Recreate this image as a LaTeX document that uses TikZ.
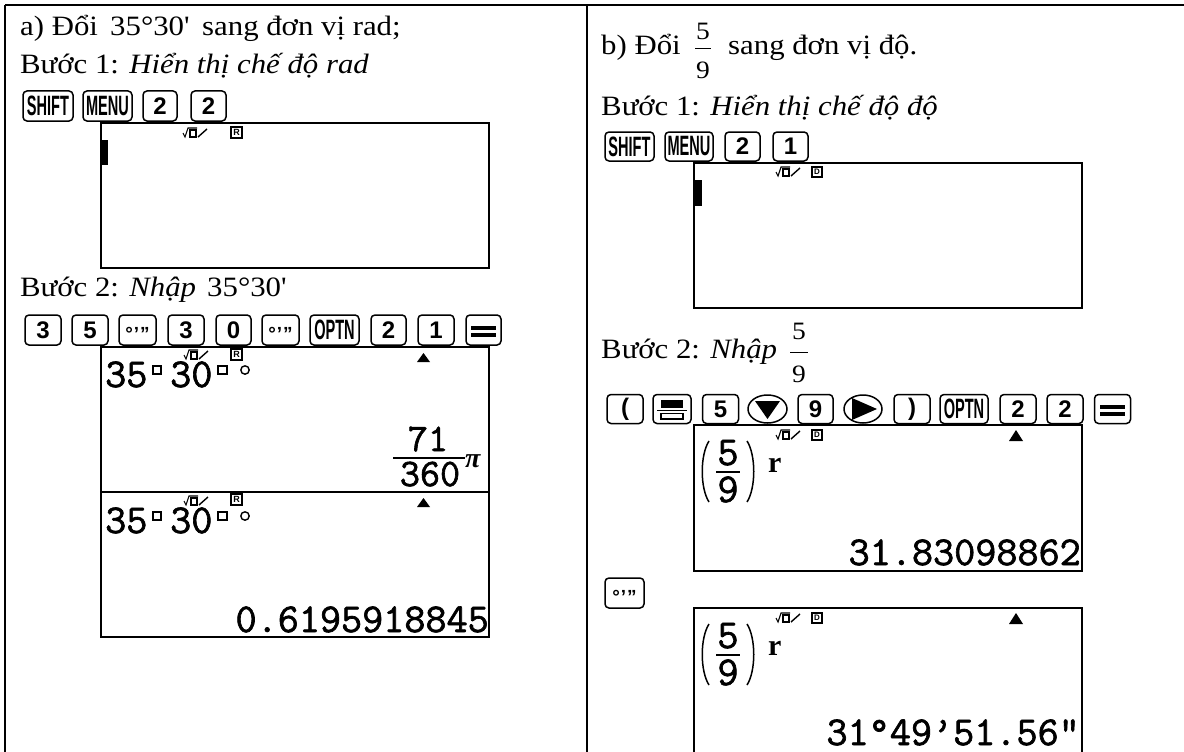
\documentclass[tikz,border=0pt]{standalone}
\usepackage{fontspec}
\usetikzlibrary{shapes.geometric}
\setmainfont{Liberation Serif}[FakeStretch=1.1]
\newfontfamily\keyfont{Liberation Sans}[FakeStretch=0.52]
\newfontfamily\keydig{Liberation Sans}
\newfontfamily\lcd{Latin Modern Mono}[FakeBold=1.6]
\newfontfamily\lcdser{Liberation Serif}
\newcommand\degkey{{\keydig\bfseries\fontsize{19}{19}\selectfont\smash{\raisebox{-10.5pt}{°\kern1pt’\kern1pt”}}}}
\begin{document}
\begin{tikzpicture}[x=1pt,y=-1pt,
  txt/.style={anchor=base west, inner sep=0pt, font=\fontsize{28}{30}\selectfont},
  fracd/.style={anchor=base, inner sep=0pt, font=\fontsize{25}{25}\selectfont},
  key/.style={draw, line width=1.5pt, rounded corners=4pt, inner sep=0pt, minimum height=30pt},
  kw/.style={font=\keyfont\bfseries\fontsize{28}{28}\selectfont},
  kd/.style={font=\keydig\bfseries\fontsize{24}{24}\selectfont},
  okey/.style={draw, ellipse, line width=1.5pt, inner sep=0pt, minimum height=28pt},
  screen/.style={draw, line width=1.8pt},
  lcdr/.style={anchor=base east, inner sep=0pt, font=\lcd\fontsize{41}{41}\selectfont},
  lcdl/.style={anchor=base west, inner sep=0pt, font=\lcd\fontsize{41}{41}\selectfont},
  lcdf/.style={anchor=base, inner sep=0pt, font=\lcd\fontsize{39}{39}\selectfont},
  lcdb/.style={anchor=base, inner sep=0pt, font=\lcd\fontsize{41}{41}\selectfont},
  rsup/.style={anchor=base west, inner sep=0pt, font=\lcdser\bfseries\fontsize{30}{30}\selectfont},
  mathio/.pic={\draw[line width=1.1pt] (0,5)--(2,9)--(5,0)--(14,0); \draw[line width=1.1pt] (7,2) rectangle (13,9); \draw[line width=1.4pt] (15,9)--(24,1);},
  boxR/.pic={\draw[line width=1.2pt] (0,0) rectangle (11,11); \node[inner sep=0pt, font=\keydig\bfseries\fontsize{9}{9}\selectfont] (-t) at (5.5,5.5) {R};},
  boxD/.pic={\draw[line width=1.2pt] (0,0) rectangle (10,10); \node[inner sep=0pt, font=\keydig\bfseries\fontsize{8}{8}\selectfont] (-t) at (5,5) {D};},
  hsq/.style={line width=1.3pt},
]
\useasboundingbox (0,0) rectangle (1184,752);
\fill[white] (0,0) rectangle (1184,752);
% table
\draw[line width=2pt] (5,5) -- (1184,5);
\draw[line width=2pt] (5,5) -- (5,752);
\draw[line width=2pt] (587,5) -- (587,752);

% ===== left column texts
\node[txt] (a1) at (20,36) {a) Đổi};
\node[txt] (a2) at (110,36) {35°30\textquotesingle};
\node[txt] (a3) at (202,36) {sang đơn vị rad;};
\node[txt] (a4) at (20,74) {Bước 1: \textit{Hiển thị chế độ rad}};
\node[txt] (a5) at (20,296) {Bước 2: \textit{Nhập}};
\node[txt] (a6) at (207,296) {35°30\textquotesingle};

% left keys step 1
\node[key,kw,minimum width=50pt] (lk1) at (48,106) {SHIFT};
\node[key,kw,minimum width=49pt] (lk2) at (107.5,106) {MENU};
\node[key,kd,minimum width=34pt] (lk3) at (160,106) {2};
\node[key,kd,minimum width=35pt] (lk4) at (208.5,106) {2};

% left screen 1
\node[screen, minimum width=388pt, minimum height=145pt, inner sep=0pt] (ls1) at (295,195.5) {};
\fill (101,140) rectangle (108,165);
\pic at (183,128) {mathio};
\pic (ir1) at (231,127) {boxR};

% left keys step 2
\node[key,kd,minimum width=36pt] (lm1) at (43,330) {3};
\node[key,kd,minimum width=36pt] (lm2) at (90,330) {5};
\node[key,minimum width=37pt] (lm3) at (137.5,330) {\degkey};
\node[key,kd,minimum width=36pt] (lm4) at (186,330) {3};
\node[key,kd,minimum width=35pt] (lm5) at (233.5,330) {0};
\node[key,minimum width=37pt] (lm6) at (280.5,330) {\degkey};
\node[key,kw,minimum width=49pt] (lm7) at (334.5,330) {OPTN};
\node[key,kd,minimum width=35pt] (lm8) at (388.5,330) {2};
\node[key,kd,minimum width=36pt] (lm9) at (436,330) {1};
\node[key,minimum width=35pt] (lm10) at (483.5,330) {};
\fill (471,325.5) rectangle (496,329.5);
\fill (471,332.5) rectangle (496,336.5);

% left screen 2
\node[screen, minimum width=388pt, minimum height=290pt, inner sep=0pt] (ls2) at (295,492) {};
\draw[line width=1.8pt] (101,492) -- (489,492);
% upper part
\node[lcdl] (u1) at (105,387) {35};
\draw[hsq] (153,366) rectangle (161,374);
\node[lcdl] (u2) at (170,387) {30};
\draw[hsq] (218,366) rectangle (227,374);
\draw[line width=1.4pt] (245,370) circle (4.2);
\pic at (184,350) {mathio};
\pic (ir2) at (231,349) {boxR};
\fill (417,362) -- (430,362) -- (423.5,353) -- cycle;
\node[lcdf] (u3) at (428,451) {71};
\draw[line width=1.6pt] (393,458) -- (465,458);
\node[lcdf] (u4) at (430,486) {360};
\node[anchor=base west, inner sep=0pt, font=\lcdser\bfseries\itshape\fontsize{28}{28}\selectfont] (u5) at (465,467) {π};
% lower part
\node[lcdl] (w1) at (105,533) {35};
\draw[hsq] (153,512) rectangle (161,520);
\node[lcdl] (w2) at (170,533) {30};
\draw[hsq] (218,512) rectangle (227,520);
\draw[line width=1.4pt] (245,516) circle (4.2);
\pic at (184,496) {mathio};
\pic (ir3) at (231,494) {boxR};
\fill (417,507) -- (430,507) -- (423.5,498) -- cycle;
\node[lcdr] (w3) at (489,632) {0.6195918845};

% ===== right column texts
\node[txt] (b1) at (601,55) {b) Đổi};
\node[fracd] (b2) at (703,40) {5};
\draw[line width=1pt] (695,49) -- (711,49);
\node[fracd] (b3) at (703,78) {9};
\node[txt] (b4) at (728,55) {sang đơn vị độ.};
\node[txt] (b5) at (601,115) {Bước 1: \textit{Hiển thị chế độ độ}};
\node[txt] (b6) at (601,358) {Bước 2: \textit{Nhập}};
\node[fracd] (b7) at (799,339) {5};
\draw[line width=1pt] (790,352) -- (808,352);
\node[fracd] (b8) at (799,382) {9};

% right keys step 1
\node[key,kw,minimum width=49pt,minimum height=29pt] (rk1) at (629.5,146.5) {SHIFT};
\node[key,kw,minimum width=48pt,minimum height=29pt] (rk2) at (689,146.5) {MENU};
\node[key,kd,minimum width=35pt,minimum height=29pt] (rk3) at (742.5,146.5) {2};
\node[key,kd,minimum width=35pt,minimum height=29pt] (rk4) at (790.5,146.5) {1};

% right screen 1
\node[screen, minimum width=388pt, minimum height=145pt, inner sep=0pt] (rs1) at (888,235.5) {};
\fill (694,180) rectangle (702,206);
\pic at (776,167) {mathio};
\pic (id1) at (812,167) {boxD};

% right keys step 2
\node[key,kd,minimum width=36pt,minimum height=29pt] (rm1) at (625,409) {(};
\node[key,minimum width=38pt,minimum height=29pt] (rm2) at (672,409) {};
\fill (661,399.5) rectangle (683,407.5);
\draw[line width=1.3pt] (657,410.5) -- (687,410.5);
\draw[line width=1.3pt] (661,413.5) rectangle (683,419);
\node[key,kd,minimum width=36pt,minimum height=29pt] (rm3) at (720.5,409) {5};
\node[okey,minimum width=39pt] (rm4) at (767.5,409) {};
\fill (755,401) -- (780,401) -- (767.5,419) -- cycle;
\node[key,kd,minimum width=35pt,minimum height=29pt] (rm5) at (815.5,409) {9};
\node[okey,minimum width=38pt] (rm6) at (863,409) {};
\fill (852,398) -- (852,420) -- (877,409) -- cycle;
\node[key,kd,minimum width=36pt,minimum height=29pt] (rm7) at (912,409) {)};
\node[key,kw,minimum width=48pt,minimum height=29pt] (rm8) at (964,409) {OPTN};
\node[key,kd,minimum width=36pt,minimum height=29pt] (rm9) at (1018,409) {2};
\node[key,kd,minimum width=36pt,minimum height=29pt] (rm10) at (1065,409) {2};
\node[key,minimum width=36pt,minimum height=29pt] (rm11) at (1112.5,409) {};
\fill (1100,404.5) rectangle (1125,408.5);
\fill (1100,411.5) rectangle (1125,415.5);

% right screen 2
\node[screen, minimum width=388pt, minimum height=146pt, inner sep=0pt] (rs2) at (888,498) {};
\pic at (776,430) {mathio};
\pic (id2) at (812,430) {boxD};
\fill (1009,441) -- (1023,441) -- (1016,430) -- cycle;
\draw[line width=1.5pt] (709,441) .. controls (700,455) and (700,488) .. (709,502);
\draw[line width=1.5pt] (747,441) .. controls (756,455) and (756,488) .. (747,502);
\node[lcdb] (p1) at (728,465) {5};
\draw[line width=1.6pt] (716,472) -- (740,472);
\node[lcdb] (p2) at (728,502) {9};
\node[rsup] (p3) at (768,472) {r};
\node[lcdr] (p4) at (1081,565) {31.83098862};

% key and screen 3
\node[key,minimum width=39pt] (rd) at (624.5,593) {\degkey};
\draw[line width=1.8pt] (694,752) -- (694,608) -- (1082,608) -- (1082,752);
\pic at (776,613) {mathio};
\pic (id3) at (812,613) {boxD};
\fill (1009,624) -- (1023,624) -- (1016,613) -- cycle;
\draw[line width=1.5pt] (709,624) .. controls (700,638) and (700,671) .. (709,685);
\draw[line width=1.5pt] (747,624) .. controls (756,638) and (756,671) .. (747,685);
\node[lcdb] (q1) at (728,648) {5};
\draw[line width=1.6pt] (716,655) -- (740,655);
\node[lcdb] (q2) at (728,685) {9};
\node[rsup] (q3) at (768,655) {r};
\node[lcdr] (q4) at (1080,745) {31°49’51.56”};
\end{tikzpicture}
\end{document}
